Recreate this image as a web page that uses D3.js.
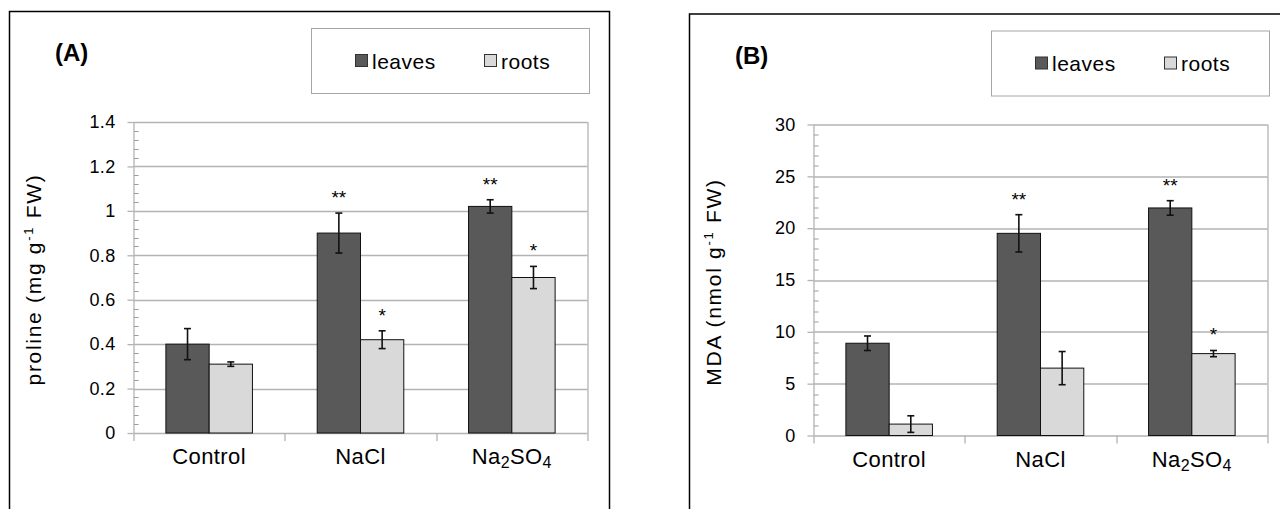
<!DOCTYPE html>
<html>
<head>
<meta charset="utf-8">
<script src="https://cdn.jsdelivr.net/npm/d3@7"></script>
<style>
  body { margin: 0; background: #fff; }
  svg { display: block; }
  text { font-family: "Liberation Sans", Arial, sans-serif; fill: #000; }
</style>
</head>
<body>
<svg id="chart" width="1280" height="509"></svg>
<script>
// categories and series
var categories = ["Control", "NaCl", "Na_2SO_4"];
var series = ["leaves", "roots"];

// (A) proline, mg g-1 FW
var prolineLeaves = [0.40, 0.90, 1.02];
var prolineLeavesErr = [0.07, 0.09, 0.03];
var prolineRoots = [0.31, 0.42, 0.70];
var prolineRootsErr = [0.01, 0.04, 0.05];
var prolineLeavesStars = ["", "**", "**"];
var prolineRootsStars = ["", "*", "*"];
var prolineTicks = [0, 0.2, 0.4, 0.6, 0.8, 1, 1.2, 1.4];

// (B) MDA, nmol g-1 FW
var mdaLeaves = [8.9, 19.5, 21.95];
var mdaLeavesErr = [0.7, 1.8, 0.7];
var mdaRoots = [1.1, 6.5, 7.9];
var mdaRootsErr = [0.8, 1.6, 0.3];
var mdaLeavesStars = ["", "**", "**"];
var mdaRootsStars = ["", "", "*"];
var mdaTicks = [0, 5, 10, 15, 20, 25, 30];

var colors = { leaves: "#595959", roots: "#d9d9d9" };

var svg = d3.select("svg#chart");

var panels = [
  {
    ox: 0, oy: 0, letter: "(A)", ylabel: ["proline (mg g", "-1", " FW)"],
    ticks: prolineTicks,
    values: { leaves: prolineLeaves, roots: prolineRoots },
    errs: { leaves: prolineLeavesErr, roots: prolineRootsErr },
    stars: { leaves: prolineLeavesStars, roots: prolineRootsStars }
  },
  {
    ox: 680, oy: 2.5, letter: "(B)", ylabel: ["MDA (nmol g", "-1", " FW)"],
    ticks: mdaTicks,
    values: { leaves: mdaLeaves, roots: mdaRoots },
    errs: { leaves: mdaLeavesErr, roots: mdaRootsErr },
    stars: { leaves: mdaLeavesStars, roots: mdaRootsStars }
  }
];

var plotLeft = 133.5, plotTop = 122, plotW = 454, plotH = 311;
var gridColor = "#b3b3b3";

// "Na_2SO_4" -> Na, 2 (sub), SO, 4 (sub)
function addSubText(sel, label) {
  label.split(/(_\d)/).filter(function (s) { return s.length; }).forEach(function (part) {
    if (part[0] === "_") {
      sel.append("tspan").attr("font-size", 16).attr("dy", 4).text(part.slice(1));
    } else {
      sel.append("tspan").attr("dy", sel.selectAll("tspan").size() ? -4 : 0).text(part);
    }
  });
}

panels.forEach(drawPanel);

function drawPanel(p) {
  var g = svg.append("g").attr("transform", "translate(" + p.ox + "," + p.oy + ")");

  // outer frame
  g.append("rect")
    .attr("x", 9.5).attr("y", 11.5)
    .attr("width", 600).attr("height", 520)
    .attr("fill", "none").attr("stroke", "#000").attr("stroke-width", 1.5);

  // panel letter
  g.append("text")
    .attr("x", 55).attr("y", 61)
    .attr("font-size", 24).attr("font-weight", "bold")
    .text(p.letter);

  // legend
  var leg = g.append("g");
  leg.append("rect")
    .attr("x", 311.5).attr("y", 28.5).attr("width", 278).attr("height", 65)
    .attr("fill", "#fff").attr("stroke", "#a6a6a6").attr("stroke-width", 1);
  var legX = { leaves: 355, roots: 484 };
  series.forEach(function (s) {
    leg.append("rect")
      .attr("x", legX[s] + 0.5).attr("y", 54.5).attr("width", 12).attr("height", 12)
      .attr("fill", colors[s]).attr("stroke", "#333");
    leg.append("text")
      .attr("x", legX[s] + 17).attr("y", 68.5)
      .attr("font-size", 21)
      .style("letter-spacing", "0.5px")
      .text(s);
  });

  var plot = g.append("g").attr("transform", "translate(" + plotLeft + "," + plotTop + ")");
  var yMax = d3.max(p.ticks);
  var y = d3.scaleLinear().domain([0, yMax]).range([plotH, 0]);
  var x = d3.scaleBand().domain(categories).range([0, plotW]);
  var bw = x.bandwidth();
  var x1 = d3.scaleBand().domain(series).range([bw * 0.214, bw * 0.786]);

  // gridlines
  plot.selectAll("line.grid").data(p.ticks).join("line")
    .attr("class", "grid")
    .attr("x1", 0).attr("x2", plotW)
    .attr("y1", function (d) { return Math.round(y(d)) + 0.5; })
    .attr("y2", function (d) { return Math.round(y(d)) + 0.5; })
    .attr("stroke", gridColor).attr("stroke-width", 1.3);

  // minor ticks (5 per interval)
  var step = p.ticks[1] - p.ticks[0];
  var minor = d3.range(0, (p.ticks.length - 1) * 5 + 1)
    .filter(function (i) { return i % 5; })
    .map(function (i) { return i * step / 5; });
  plot.selectAll("line.minor").data(minor).join("line")
    .attr("class", "minor")
    .attr("x1", 0).attr("x2", 5)
    .attr("y1", function (d) { return Math.round(y(d)) + 0.5; })
    .attr("y2", function (d) { return Math.round(y(d)) + 0.5; })
    .attr("stroke", "#999").attr("stroke-width", 1);

  // y axis: major ticks and labels
  var yAxis = d3.axisLeft(y).tickValues(p.ticks).tickSize(6).tickSizeOuter(0).tickPadding(12)
    .tickFormat(function (d) { return String(+d.toFixed(1)); });
  var ya = plot.append("g").call(yAxis);
  ya.select(".domain").remove();
  ya.selectAll(".tick line").attr("stroke", gridColor).attr("stroke-width", 1.3);
  ya.selectAll(".tick text")
    .attr("font-size", 18).attr("font-family", "Liberation Sans, Arial, sans-serif")
    .attr("fill", "#000").style("letter-spacing", "0.3px");

  // vertical axis lines and category ticks
  var vlines = [0].concat(categories.slice(1).map(function (c) { return x(c); })).concat([plotW]);
  plot.selectAll("line.vx").data(vlines).join("line")
    .attr("class", "vx")
    .attr("x1", function (d) { return Math.round(d) + 0.5; })
    .attr("x2", function (d) { return Math.round(d) + 0.5; })
    .attr("y1", function (d, i) { return (i === 0 || i === vlines.length - 1) ? 0 : plotH; })
    .attr("y2", plotH + 8)
    .attr("stroke", gridColor).attr("stroke-width", 1.3);

  // bars
  series.forEach(function (s) {
    var rows = categories.map(function (c, i) {
      return { c: c, v: p.values[s][i], e: p.errs[s][i], star: p.stars[s][i] };
    });
    var sg = plot.append("g");
    sg.selectAll("rect").data(rows).join("rect")
      .attr("x", function (d) { return x(d.c) + x1(s); })
      .attr("y", function (d) { return y(d.v); })
      .attr("width", x1.bandwidth())
      .attr("height", function (d) { return plotH - y(d.v); })
      .attr("fill", colors[s]).attr("stroke", "#111").attr("stroke-width", 1);

    var cx = function (d) { return x(d.c) + x1(s) + x1.bandwidth() / 2; };
    // error bars
    sg.selectAll("line.err").data(rows).join("line")
      .attr("class", "err")
      .attr("x1", cx).attr("x2", cx)
      .attr("y1", function (d) { return y(d.v + d.e); })
      .attr("y2", function (d) { return y(d.v - d.e); })
      .attr("stroke", "#111").attr("stroke-width", 1.6);
    [1, -1].forEach(function (sign) {
      sg.selectAll("line.cap" + (sign > 0 ? "t" : "b")).data(rows).join("line")
        .attr("class", "cap" + (sign > 0 ? "t" : "b"))
        .attr("x1", function (d) { return cx(d) - 3.5; })
        .attr("x2", function (d) { return cx(d) + 3.5; })
        .attr("y1", function (d) { return y(d.v + sign * d.e); })
        .attr("y2", function (d) { return y(d.v + sign * d.e); })
        .attr("stroke", "#111").attr("stroke-width", 1.6);
    });
    // significance stars
    sg.selectAll("text.star").data(rows.filter(function (d) { return d.star; })).join("text")
      .attr("class", "star")
      .attr("x", cx)
      .attr("y", function (d) { return y(d.v + d.e) - 9; })
      .attr("text-anchor", "middle")
      .attr("font-size", 19)
      .attr("fill", "#333")
      .text(function (d) { return d.star; });
  });

  // category labels
  categories.forEach(function (c) {
    var t = plot.append("text")
      .attr("x", x(c) + bw / 2).attr("y", plotH + 35)
      .attr("text-anchor", "middle")
      .attr("font-size", 22)
      .style("letter-spacing", "0.4px");
    addSubText(t, c);
  });

  // y axis title
  var yl = g.append("text")
    .attr("transform", "translate(40.5," + (plotTop + plotH / 2 + 2) + ") rotate(-90)")
    .attr("text-anchor", "middle")
    .attr("font-size", 21)
    .style("letter-spacing", "1.7px");
  yl.append("tspan").text(p.ylabel[0]);
  yl.append("tspan").attr("font-size", 13).attr("dy", -8).text(p.ylabel[1]);
  yl.append("tspan").attr("dy", 8).text(p.ylabel[2]);
}
</script>
</body>
</html>
